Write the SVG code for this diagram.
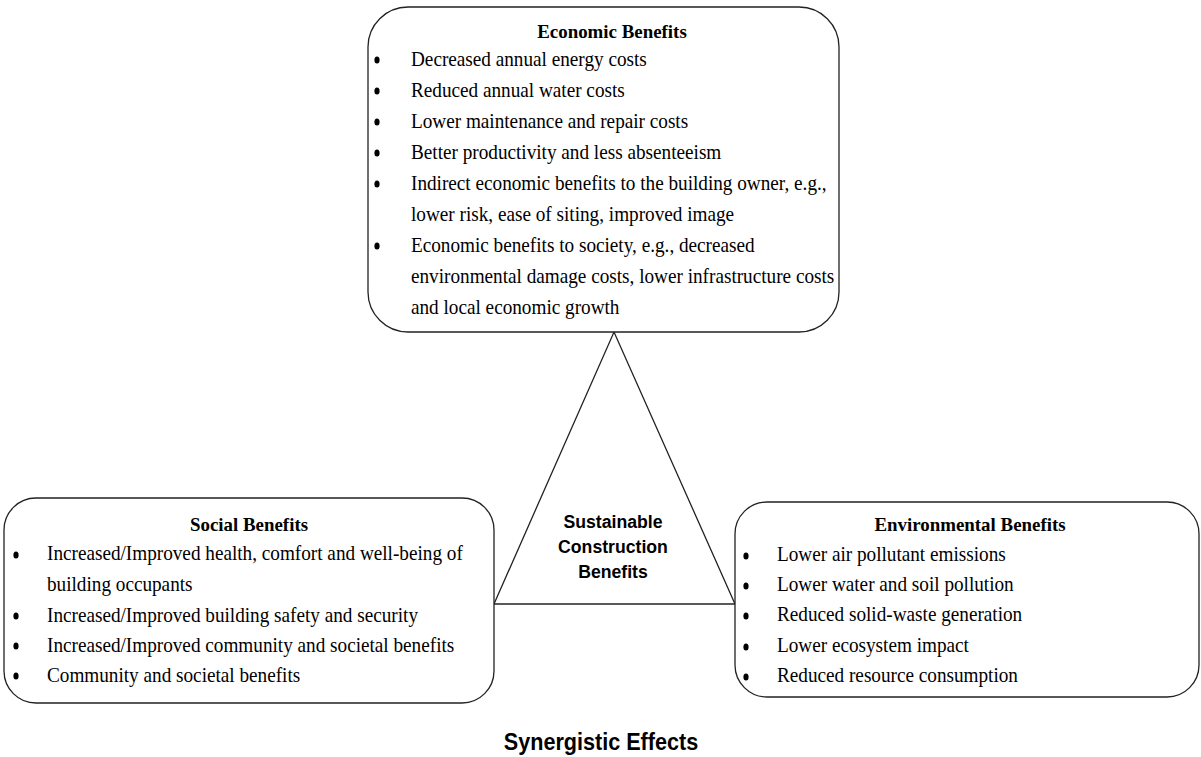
<svg xmlns="http://www.w3.org/2000/svg" width="1201" height="757" viewBox="0 0 1201 757">
<style>
.box{fill:#fff;stroke:#222;stroke-width:1.3}
.t{font-family:"Liberation Serif","Times New Roman",serif;font-size:21px;fill:#000}
.h{font-family:"Liberation Serif","Times New Roman",serif;font-size:19.5px;font-weight:bold;fill:#000;text-anchor:middle}
.a{font-family:"Liberation Sans",Arial,sans-serif;font-weight:bold;fill:#000;text-anchor:middle}
.b{fill:#000}
.ln{stroke:#222;stroke-width:1.3;fill:none}
</style>
<rect width="1201" height="757" fill="#fff"/>
<g id="connectors">
<polyline class="ln" points="494,604 614,332 735,604"/>
<line class="ln" x1="494" y1="604" x2="735" y2="604"/>
</g>
<g id="economic">
<rect class="box" x="368" y="7" width="471" height="325" rx="40" ry="40"/>
<text class="h" x="612" y="38" transform="matrix(0.97 0 0 1 18.36 0)">Economic Benefits</text>
<g class="b"><ellipse cx="377" cy="60" rx="2.6" ry="3.6"/><ellipse cx="377" cy="91" rx="2.6" ry="3.6"/><ellipse cx="377" cy="122" rx="2.6" ry="3.6"/><ellipse cx="377" cy="153" rx="2.6" ry="3.6"/><ellipse cx="377" cy="184" rx="2.6" ry="3.6"/><ellipse cx="377" cy="246" rx="2.6" ry="3.6"/></g>
<g transform="matrix(0.915 0 0 1 34.94 0)">
<text class="t" x="411" y="66">Decreased annual energy costs</text>
<text class="t" x="411" y="97">Reduced annual water costs</text>
<text class="t" x="411" y="128">Lower maintenance and repair costs</text>
<text class="t" x="411" y="159">Better productivity and less absenteeism</text>
<text class="t" x="411" y="190">Indirect economic benefits to the building owner, e.g.,</text>
<text class="t" x="411" y="221">lower risk, ease of siting, improved image</text>
<text class="t" x="411" y="252">Economic benefits to society, e.g., decreased</text>
<text class="t" x="411" y="283">environmental damage costs, lower infrastructure costs</text>
<text class="t" x="411" y="314">and local economic growth</text>
</g>
</g>
<g id="social">
<rect class="box" x="4" y="498" width="490" height="205" rx="32" ry="32"/>
<text class="h" x="249" y="531" transform="matrix(0.97 0 0 1 7.47 0)">Social Benefits</text>
<g class="b"><ellipse cx="16" cy="555" rx="2.6" ry="3.6"/><ellipse cx="16" cy="616" rx="2.6" ry="3.6"/><ellipse cx="16" cy="646" rx="2.6" ry="3.6"/><ellipse cx="16" cy="676" rx="2.6" ry="3.6"/></g>
<g transform="matrix(0.915 0 0 1 3.995 0)">
<text class="t" x="47" y="560">Increased/Improved health, comfort and well-being of</text>
<text class="t" x="47" y="591">building occupants</text>
<text class="t" x="47" y="622">Increased/Improved building safety and security</text>
<text class="t" x="47" y="652">Increased/Improved community and societal benefits</text>
<text class="t" x="47" y="682">Community and societal benefits</text>
</g>
</g>
<g id="environmental">
<rect class="box" x="735" y="502" width="464" height="195" rx="32" ry="32"/>
<text class="h" x="970" y="531" transform="matrix(0.97 0 0 1 29.1 0)">Environmental Benefits</text>
<g class="b"><ellipse cx="746" cy="556" rx="2.6" ry="3.6"/><ellipse cx="746" cy="586" rx="2.6" ry="3.6"/><ellipse cx="746" cy="616" rx="2.6" ry="3.6"/><ellipse cx="746" cy="647" rx="2.6" ry="3.6"/><ellipse cx="746" cy="677" rx="2.6" ry="3.6"/></g>
<g transform="matrix(0.915 0 0 1 66.05 0)">
<text class="t" x="777" y="561">Lower air pollutant emissions</text>
<text class="t" x="777" y="591">Lower water and soil pollution</text>
<text class="t" x="777" y="621">Reduced solid-waste generation</text>
<text class="t" x="777" y="652">Lower ecosystem impact</text>
<text class="t" x="777" y="682">Reduced resource consumption</text>
</g>
</g>
<g id="center" transform="matrix(0.93 0 0 1 42.9 0)">
<text class="a" x="613" y="528" font-size="19">Sustainable</text>
<text class="a" x="613" y="553" font-size="19">Construction</text>
<text class="a" x="613" y="578" font-size="19">Benefits</text>
</g>
<g id="footer" transform="matrix(0.9 0 0 1 60.1 0)">
<text class="a" x="601" y="750" font-size="24">Synergistic Effects</text>
</g>
</svg>
